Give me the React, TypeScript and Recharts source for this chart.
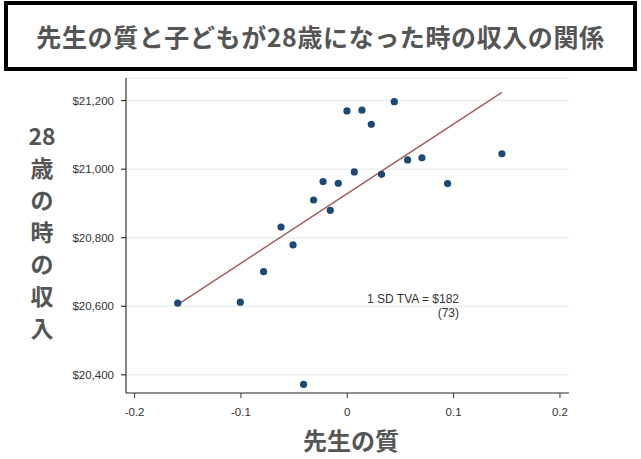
import { ScatterChart, Scatter, XAxis, YAxis, CartesianGrid } from 'recharts';

const teacherQuality = [
  -0.1595, -0.1006, -0.0787, -0.0623, -0.051, -0.0411, -0.0317, -0.0228, -0.016, -0.0085,
  -0.0003, 0.0066, 0.0138, 0.0226, 0.0322, 0.0442, 0.0567, 0.0702, 0.0943, 0.1454,
];
const earningsAt28 = [
  20609, 20612, 20701, 20831, 20779, 20372, 20910, 20964, 20880, 20959,
  21170, 20992, 21172, 21131, 20985, 21197, 21027, 21033, 20958, 21045,
];
const fitX = [-0.1598, 0.1454];
const fitY = [20604, 21224];
const xTicks = [-0.2, -0.1, 0, 0.1, 0.2];
const yTicks = [20400, 20600, 20800, 21000, 21200];

const points = teacherQuality.map((x, i) => ({ x, y: earningsAt28[i] }));
const fitLine = fitX.map((x, i) => ({ x, y: fitY[i] }));

const DOT = '#1c4a74';
const FIT = '#a85c5c';
const LABEL = '#555555';
const TICK = '#333333';
const ARIAL = '"Liberation Sans", Arial, sans-serif';

const yLabelChars = ['28', '歳', 'の', '時', 'の', '収', '入'];

const fmtDollar = (v: number) => '$' + v.toLocaleString('en-US');

export default function App() {
  return (
    <div
      style={{
        position: 'absolute',
        left: 0,
        top: 0,
        width: 641,
        height: 459,
        background: '#fff',
        fontFamily: '"Noto Sans CJK JP", "Noto Sans", sans-serif',
      }}
    >
      <div
        style={{
          position: 'absolute',
          left: 4,
          top: 1,
          width: 633,
          height: 70,
          boxSizing: 'border-box',
          border: '4px solid #000',
          display: 'flex',
          alignItems: 'center',
          justifyContent: 'center',
          fontSize: 25,
          fontWeight: 700,
          color: LABEL,
          letterSpacing: 0.6,
        }}
      >
        先生の質と子どもが28歳になった時の収入の関係
      </div>

      <ScatterChart
        width={641}
        height={459}
        margin={{ top: 78, right: 72, bottom: 0, left: 0 }}
        style={{ position: 'absolute', left: 0, top: 0 }}
      >
        <CartesianGrid vertical={false} stroke="#e8f0f0" strokeWidth={1.5} />
        <XAxis
          type="number"
          dataKey="x"
          domain={[-0.2081, 0.2085]}
          ticks={xTicks}
          allowDataOverflow
          height={66}
          tickSize={5}
          tickMargin={10}
          stroke="#333"
          tick={{ fill: TICK, fontSize: 11.5, fontFamily: ARIAL }}
        />
        <YAxis
          type="number"
          dataKey="y"
          domain={[20347, 21266]}
          ticks={yTicks}
          allowDataOverflow
          width={126}
          tickSize={5}
          tickMargin={7}
          stroke="#111"
          tickFormatter={fmtDollar}
          tick={{ fill: TICK, fontSize: 11.5, fontFamily: ARIAL }}
        />
        <Scatter
          data={fitLine}
          line={{ stroke: FIT, strokeWidth: 1.5 }}
          shape={() => <g />}
          isAnimationActive={false}
        />
        <Scatter
          data={points}
          fill={DOT}
          shape={(p: any) => <circle cx={p.cx} cy={p.cy} r={3.6} fill={DOT} />}
          isAnimationActive={false}
        />
      </ScatterChart>

      <div
        style={{
          position: 'absolute',
          left: 320,
          top: 292,
          width: 139,
          textAlign: 'right',
          fontFamily: ARIAL,
          fontSize: 12,
          lineHeight: '14px',
          color: '#333',
        }}
      >
        <div>1 SD TVA = $182</div>
        <div>(73)</div>
      </div>

      <div
        style={{
          position: 'absolute',
          left: 22,
          top: 119,
          width: 40,
          textAlign: 'center',
          fontSize: 23,
          fontWeight: 700,
          color: LABEL,
          lineHeight: '32px',
        }}
      >
        {yLabelChars.map((c, i) => (
          <div key={i}>{c}</div>
        ))}
      </div>

      <div
        style={{
          position: 'absolute',
          left: 251,
          top: 424,
          width: 200,
          textAlign: 'center',
          fontSize: 24,
          fontWeight: 700,
          color: LABEL,
          lineHeight: '32px',
        }}
      >
        先生の質
      </div>
    </div>
  );
}
